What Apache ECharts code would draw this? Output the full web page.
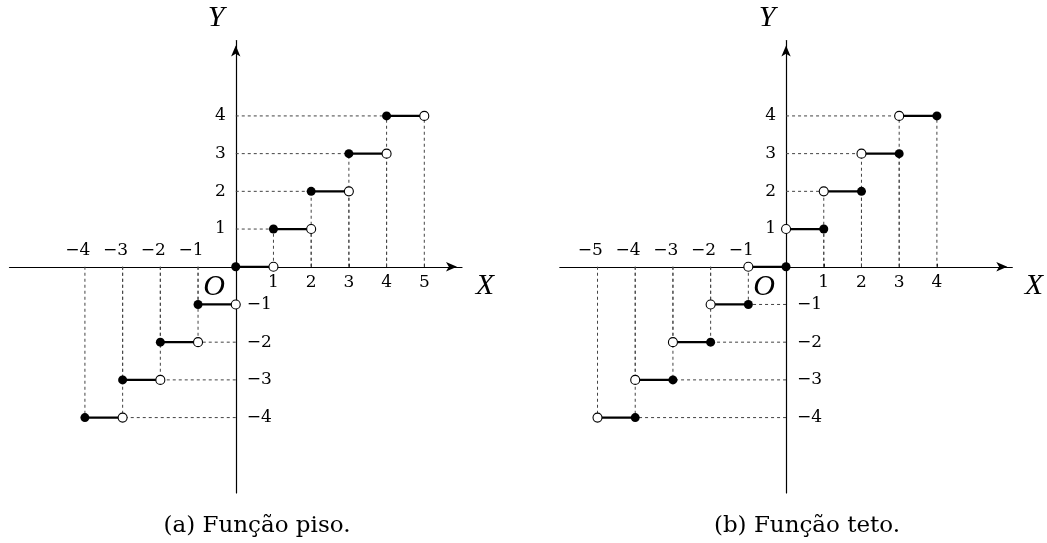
<!DOCTYPE html>
<html>
<head>
<meta charset="utf-8">
<script src="https://cdn.jsdelivr.net/npm/echarts@6/dist/echarts.min.js"></script>
<style>
html,body{margin:0;padding:0;background:#fff;}
#chart{width:1047px;height:543px;}
</style>
</head>
<body>
<div id="chart"></div>
<script>
// ---- data ----
// Floor function: segments [start, end) with value
const floorStart = [-4, -3, -2, -1, 0, 1, 2, 3, 4];
const floorEnd   = [-3, -2, -1, 0, 1, 2, 3, 4, 5];
const floorValue = [-4, -3, -2, -1, 0, 1, 2, 3, 4];
// Ceiling function: segments (start, end] with value
const ceilStart = [-5, -4, -3, -2, -1, 0, 1, 2, 3];
const ceilEnd   = [-4, -3, -2, -1, 0, 1, 2, 3, 4];
const ceilValue = [-4, -3, -2, -1, 0, 1, 2, 3, 4];
// tick labels
const floorXPos = [1, 2, 3, 4, 5];
const floorXNeg = [-4, -3, -2, -1];
const ceilXPos = [1, 2, 3, 4];
const ceilXNeg = [-5, -4, -3, -2, -1];
const yPos = [1, 2, 3, 4];
const yNeg = [-4, -3, -2, -1];
const axisMin = -6, axisMax = 6;
const captions = ['(a) Função piso.', '(b) Função teto.'];

// ---- styles ----
const TICK_FONT = 'DejaVu Serif';
const TICK_SIZE = 17;
const MINUS = '\u2212';

function grid(left) {
  return { left: left, top: 40.5, width: 452.5, height: 452.5, containLabel: false, outerBoundsMode: 'none' };
}

function xAxis(gi, pos) {
  return {
    type: 'value', gridIndex: gi, min: axisMin, max: axisMax, interval: 1,
    axisLine: { show: true, onZero: true, symbol: ['none', 'arrow'], symbolSize: [7, 11], symbolOffset: [0, -5],
      lineStyle: { color: '#000', width: 1.2 } },
    axisTick: { show: true, inside: true, length: 3, customValues: pos, lineStyle: { color: '#000', width: 1 } },
    splitLine: { show: false },
    axisLabel: { show: false }
  };
}

function yAxis(gi) {
  return {
    type: 'value', gridIndex: gi, min: axisMin, max: axisMax, interval: 1,
    axisLine: { show: true, onZero: true, symbol: ['none', 'arrow'], symbolSize: [7, 11], symbolOffset: [0, -5],
      lineStyle: { color: '#000', width: 1.2 } },
    axisTick: { show: false },
    splitLine: { show: false },
    axisLabel: { show: false }
  };
}

const tickText = { color: '#000', fontFamily: TICK_FONT, fontSize: TICK_SIZE, opacity: 1 };

function tickLabelSeries(gi, xPos, xNeg) {
  const ax = { xAxisIndex: gi, yAxisIndex: gi };
  const base = { type: 'scatter', symbol: 'circle', symbolSize: 0, silent: true, animation: false, z: 8,
    itemStyle: { color: 'rgba(0,0,0,0)', opacity: 1 } };
  return [
    Object.assign({}, base, ax, {
      data: xPos.map(v => [v, 0]),
      label: Object.assign({ show: true, position: 'bottom', distance: 7, formatter: p => String(p.value[0]) }, tickText)
    }),
    Object.assign({}, base, ax, {
      data: xNeg.map(v => [v, 0]),
      label: Object.assign({ show: true, position: 'top', distance: 8,
        formatter: p => '{n|' + MINUS + Math.abs(p.value[0]) + '}{h|' + MINUS + '}',
        rich: { n: Object.assign({}, tickText), h: Object.assign({}, tickText, { color: 'rgba(0,0,0,0)' }) }
      }, tickText)
    }),
    Object.assign({}, base, ax, {
      data: yPos.map(v => [0, v]),
      label: Object.assign({ show: true, position: 'left', distance: 10, formatter: p => String(p.value[1]) }, tickText)
    }),
    Object.assign({}, base, ax, {
      data: yNeg.map(v => [0, v]),
      label: Object.assign({ show: true, position: 'right', distance: 11, formatter: p => MINUS + Math.abs(p.value[1]) }, tickText)
    })
  ];
}

function panelSeries(gi, starts, ends, values, closedAtStart) {
  const ax = { xAxisIndex: gi, yAxisIndex: gi };
  const out = [];
  const dashed = { color: '#444', width: 1, type: [3, 3] };
  function addLine(data, style, z) {
    out.push(Object.assign({
      type: 'line', data: data, symbol: 'none', silent: true, animation: false,
      lineStyle: style, z: z
    }, ax));
  }
  for (let i = 0; i < values.length; i++) {
    const s = starts[i], e = ends[i], v = values[i];
    if (v !== 0) {
      if (s !== 0) addLine([[s, 0], [s, v]], dashed, 1);
      if (e !== 0) addLine([[e, 0], [e, v]], dashed, 1);
      const near = v > 0 ? s : e;
      if (near !== 0) addLine([[0, v], [near, v]], dashed, 1);
    }
  }
  for (let i = 0; i < values.length; i++) {
    addLine([[starts[i], values[i]], [ends[i], values[i]]], { color: '#000', width: 2.2, type: 'solid' }, 3);
  }
  const filled = [], open = [];
  for (let i = 0; i < values.length; i++) {
    const a = [starts[i], values[i]], b = [ends[i], values[i]];
    if (closedAtStart) { filled.push(a); open.push(b); } else { open.push(a); filled.push(b); }
  }
  out.push(Object.assign({
    type: 'scatter', data: open, symbol: 'circle', symbolSize: 9, animation: false, z: 5,
    itemStyle: { color: '#fff', borderColor: '#000', borderWidth: 1.1, opacity: 1 }
  }, ax));
  out.push(Object.assign({
    type: 'scatter', data: filled, symbol: 'circle', symbolSize: 9, animation: false, z: 6,
    itemStyle: { color: '#000', opacity: 1 }
  }, ax));
  return out;
}

function italicText(txt, x, y) {
  return { type: 'text', z: 10, style: { text: txt, x: x, y: y, align: 'center', verticalAlign: 'middle',
    font: 'italic 30px "Liberation Serif"', fill: '#000' } };
}
function captionText(txt, x, y) {
  return { type: 'text', z: 10, style: { text: txt, x: x, y: y, align: 'center', verticalAlign: 'middle',
    font: '23px "DejaVu Serif"', fill: '#000' } };
}

const chart = echarts.init(document.getElementById('chart'), null, { renderer: 'canvas' });
chart.setOption({
  animation: false,
  backgroundColor: '#fff',
  grid: [grid(9.5), grid(559.8)],
  xAxis: [xAxis(0, floorXPos), xAxis(1, ceilXPos)],
  yAxis: [yAxis(0), yAxis(1)],
  series: panelSeries(0, floorStart, floorEnd, floorValue, true)
    .concat(panelSeries(1, ceilStart, ceilEnd, ceilValue, false))
    .concat(tickLabelSeries(0, floorXPos, floorXNeg))
    .concat(tickLabelSeries(1, ceilXPos, ceilXNeg)),
  graphic: [
    italicText('Y', 216, 18), italicText('X', 485, 286), italicText('O', 214, 287),
    italicText('Y', 767, 18), italicText('X', 1034, 286), italicText('O', 764, 287),
    captionText(captions[0], 257, 526), captionText(captions[1], 807, 526)
  ]
});
</script>
</body>
</html>
